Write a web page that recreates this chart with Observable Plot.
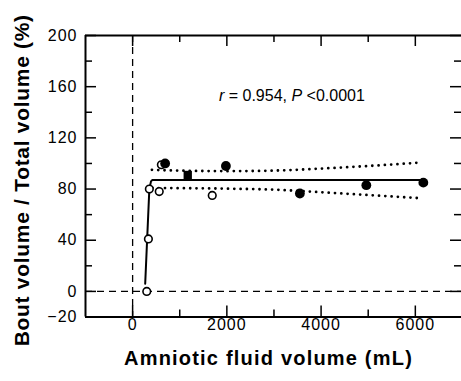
<!DOCTYPE html>
<html><head><meta charset="utf-8">
<script src="https://cdn.jsdelivr.net/npm/d3@7"></script>
<script src="https://cdn.jsdelivr.net/npm/@observablehq/plot@0.6"></script>
<style>
html,body{margin:0;padding:0;background:#fff;}
#chart svg{font-family:"Liberation Sans", Arial, sans-serif;background:#fff;}
g[aria-label="y-axis tick label"] text, g[aria-label="x-axis tick label"] text{letter-spacing:1px;}
</style></head><body><div id="chart"></div>
<script>
// Data
const openX = [300, 335, 355, 565, 610, 1690];
const openY = [0, 41, 80, 78, 99, 75];
const filledX = [690, 1980, 3550, 4960, 6170];
const filledY = [100, 98, 76.5, 83, 85];
const squareX = [1170];
const squareY = [91];
const fitX = [267, 355, 390, 415, 6170];
const fitY = [6, 80, 86, 87, 87];
const upperX = [410, 1000, 2000, 3000, 4000, 5000, 6075];
const upperY = [95, 94.4, 94, 94.4, 96, 98, 100.6];
const lowerX = [420, 1000, 2000, 3000, 4000, 5000, 6075];
const lowerY = [80.8, 80.7, 80.3, 79.5, 77.5, 75.3, 72.9];
const xMajor = [0, 2000, 4000, 6000];
const xMinor = [1000, 3000, 5000];
const yMajor = [0, 40, 80, 120, 160, 200];
const yMinor = [20, 60, 100, 140, 180];
const yLabels = [-20, 0, 40, 80, 120, 160, 200];
const xTitle = "Amniotic fluid volume (mL)";
const yTitle = "Bout volume / Total volume (%)";
const statText = "r = 0.954, P <0.0001";
const statPos = {x: 3380, y: 153};

const W = 461, Hh = 381;
const mL = 85, mR = 0, mT = 35, mB = 64.5;
const fw = W - mL - mR, fh = Hh - mT - mB;
const maj = 11, mnr = 7;

const pts = (xs, ys) => xs.map((x, i) => ({x, y: ys[i]}));

const plot = Plot.plot({
  width: W, height: Hh,
  marginLeft: mL, marginRight: mR, marginTop: mT, marginBottom: mB,
  x: {domain: [-1000, 6980]},
  y: {domain: [-20, 200]},
  marks: [
    // dashed reference lines
    Plot.ruleX([0], {stroke: "#000", strokeWidth: 1.3, strokeDasharray: "7,5"}),
    Plot.ruleY([0], {stroke: "#000", strokeWidth: 1.3, strokeDasharray: "7,5"}),
    // frame (left, bottom, top)
    Plot.ruleX([-1000], {stroke: "#000", strokeWidth: 2}),
    Plot.ruleY([-20, 200], {stroke: "#000", strokeWidth: 2}),
    // inward ticks
    Plot.ruleX(xMajor, {stroke: "#000", strokeWidth: 1.5, insetTop: fh - maj}),
    Plot.ruleX(xMinor, {stroke: "#000", strokeWidth: 1.5, insetTop: fh - mnr}),
    Plot.ruleX(xMajor, {stroke: "#000", strokeWidth: 1.5, insetBottom: fh - maj}),
    Plot.ruleX(xMinor, {stroke: "#000", strokeWidth: 1.5, insetBottom: fh - mnr}),
    Plot.ruleY(yMajor, {stroke: "#000", strokeWidth: 1.5, insetRight: fw - maj}),
    Plot.ruleY(yMinor, {stroke: "#000", strokeWidth: 1.5, insetRight: fw - mnr}),
    Plot.ruleY(yMajor, {stroke: "#000", strokeWidth: 1.5, insetLeft: fw - maj}),
    Plot.ruleY(yMinor, {stroke: "#000", strokeWidth: 1.5, insetLeft: fw - mnr}),
    // axes labels
    Plot.axisY({ticks: yLabels, tickSize: 0, tickPadding: 8, label: null, fontSize: 16}),
    Plot.axisX({ticks: xMajor, tickSize: 0, tickPadding: 2, label: null, fontSize: 16, tickFormat: d3.format("d")}),
    // confidence bands
    Plot.line(pts(upperX, upperY), {x: "x", y: "y", stroke: "#000", strokeWidth: 2.8, strokeDasharray: "0,6.3", strokeLinecap: "round", curve: "monotone-x"}),
    Plot.line(pts(lowerX, lowerY), {x: "x", y: "y", stroke: "#000", strokeWidth: 2.8, strokeDasharray: "0,6.3", strokeLinecap: "round", curve: "monotone-x"}),
    // fitted curve
    Plot.line(pts(fitX, fitY), {x: "x", y: "y", stroke: "#000", strokeWidth: 2}),
    // points
    Plot.dot(pts(openX, openY), {x: "x", y: "y", r: 3.8, fill: "#fff", stroke: "#000", strokeWidth: 1.6}),
    Plot.dot(pts(filledX, filledY), {x: "x", y: "y", r: 4.9, fill: "#000", stroke: "none"}),
    Plot.dot(pts(squareX, squareY), {x: "x", y: "y", r: 4.7, symbol: "square", fill: "#000", stroke: "none"}),
    // annotation
    Plot.text([statText], {x: statPos.x, y: statPos.y, text: d => d, fontSize: 16, fill: "#000", className: "stat"}),
    // titles
    Plot.text([xTitle], {frameAnchor: "bottom", text: d => d, textAnchor: "middle", lineAnchor: "middle", dy: 42, dx: -5, fontSize: 20, fontWeight: "bold", fill: "#000", className: "xtitle"}),
    Plot.text([yTitle], {frameAnchor: "left", text: d => d, textAnchor: "middle", lineAnchor: "middle", rotate: -90, dx: -63, dy: 4, fontSize: 21, fontWeight: "bold", fill: "#000", className: "ytitle"})
  ]
});
document.getElementById("chart").appendChild(plot);

// italic r and P in the annotation
const st = plot.querySelector(".stat text");
if (st) {
  st.textContent = "";
  const parts = [["r", true], [" = 0.954, ", false], ["P", true], [" <0.0001", false]];
  for (const [t, it] of parts) {
    const ts = document.createElementNS("http://www.w3.org/2000/svg", "tspan");
    ts.textContent = t;
    if (it) ts.setAttribute("font-style", "italic");
    st.appendChild(ts);
  }
}
plot.querySelectorAll(".xtitle text").forEach(t => t.style.letterSpacing = "1.2px");
plot.querySelectorAll(".ytitle text").forEach(t => t.style.letterSpacing = "0.7px");
</script></body></html>
